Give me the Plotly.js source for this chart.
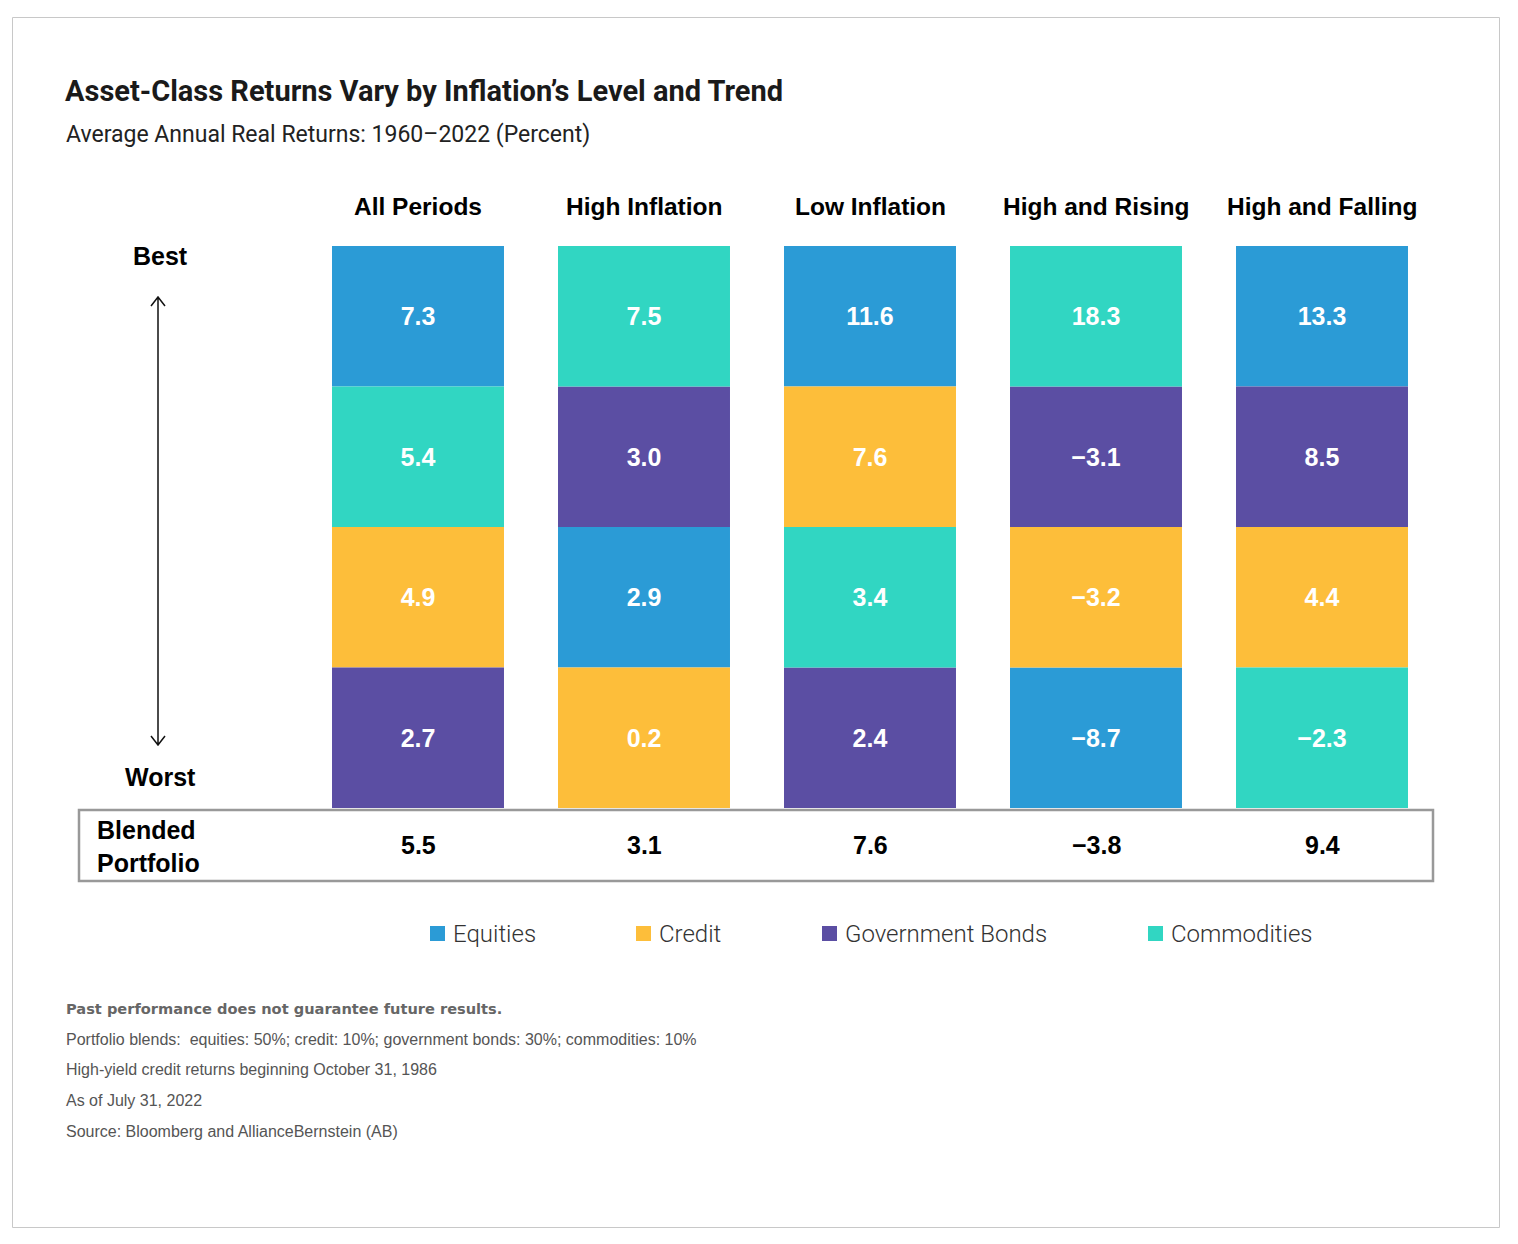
<!DOCTYPE html>
<html>
<head>
<meta charset="utf-8">
<script src="https://cdn.plot.ly/plotly-3.0.1.min.js"></script>
<style>html,body{margin:0;padding:0;background:#fff;}#chart{width:1518px;height:1244px;}</style>
</head>
<body>
<div id="chart"></div>
<script>
// ---------- DATA ----------
const categories = ['All Periods', 'High Inflation', 'Low Inflation', 'High and Rising', 'High and Falling'];
const assets = ['Equities', 'Credit', 'Government Bonds', 'Commodities'];
const equities = [7.3, 2.9, 11.6, -8.7, 13.3];
const credit = [4.9, 0.2, 7.6, -3.2, 4.4];
const govBonds = [2.7, 3.0, 2.4, -3.1, 8.5];
const commodities = [5.4, 7.5, 3.4, 18.3, -2.3];
const blended = [5.5, 3.1, 7.6, -3.8, 9.4];
const footnotes = [
  'Portfolio blends:  equities: 50%; credit: 10%; government bonds: 30%; commodities: 10%',
  'High-yield credit returns beginning October 31, 1986',
  'As of July 31, 2022',
  'Source: Bloomberg and AllianceBernstein (AB)'
];

// ---------- STYLE ----------
const colors = ['#2B9BD6', '#FDBE3A', '#5B4EA3', '#31D6C2'];
const W = 1518, H = 1244;
const X = px => px / W;
const Y = py => 1 - py / H;
const fmt = v => v.toFixed(1).replace('-', '\u2212');
const SANS = 'Liberation Sans, Arial, sans-serif';

const series = [equities, credit, govBonds, commodities];
// rank within each column: number of assets with a lower value (0 = worst, bottom)
const ranks = series.map(s => s.map((v, j) => series.filter(o => o[j] < v).length));

const traces = series.map((s, i) => ({
  type: 'bar',
  name: assets[i],
  x: categories,
  y: s.map(() => 1),
  base: ranks[i],
  width: 0.761,
  marker: {color: colors[i], line: {width: 0}},
  text: s.map(fmt),
  textposition: 'inside',
  insidetextanchor: 'middle',
  textangle: 0,
  constraintext: 'none',
  textfont: {family: SANS, size: 25, color: '#ffffff', weight: 700},
  hoverinfo: 'skip',
  showlegend: false
}));

const annotations = [];
// subtitle
annotations.push({xref: 'paper', yref: 'paper', x: X(64), y: Y(135), xanchor: 'left', yanchor: 'middle',
  text: 'Average Annual Real Returns: 1960\u20132022 (Percent)', showarrow: false,
  font: {family: 'Roboto, sans-serif', size: 23, color: '#222'}});
// column headers
categories.forEach((c, j) => annotations.push({xref: 'x', yref: 'paper', x: j, y: Y(207), xanchor: 'center', yanchor: 'middle',
  text: '<b>' + c + '</b>', showarrow: false, font: {family: SANS, size: 24.5, color: '#000'}}));
// blended values
blended.forEach((v, j) => annotations.push({xref: 'x', yref: 'paper', x: j, y: Y(845), xanchor: 'center', yanchor: 'middle',
  text: '<b>' + fmt(v) + '</b>', showarrow: false, font: {family: SANS, size: 25, color: '#000'}}));
// Best / Worst
annotations.push({xref: 'paper', yref: 'paper', x: X(160), y: Y(256), xanchor: 'center', yanchor: 'middle', text: '<b>Best</b>', showarrow: false,
  font: {family: SANS, size: 25, color: '#000'}});
annotations.push({xref: 'paper', yref: 'paper', x: X(160), y: Y(777), xanchor: 'center', yanchor: 'middle', text: '<b>Worst</b>', showarrow: false,
  font: {family: SANS, size: 25, color: '#000'}});
// Blended Portfolio label
annotations.push({xref: 'paper', yref: 'paper', x: X(95), y: Y(846), xanchor: 'left', yanchor: 'middle', align: 'left',
  text: '<b>Blended<br>Portfolio</b>', showarrow: false,
  font: {family: SANS, size: 25, color: '#000'}});
// legend (manual)
const legendX = [437, 643, 829, 1155];
const shapes = [];
assets.forEach((a, i) => {
  shapes.push({type: 'rect', xref: 'paper', yref: 'paper', x0: X(legendX[i] - 7), x1: X(legendX[i] + 8), y0: Y(941), y1: Y(926),
    fillcolor: colors[i], line: {width: 0}});
  annotations.push({xref: 'paper', yref: 'paper', x: X(legendX[i] + 14), y: Y(934), xanchor: 'left', yanchor: 'middle',
    text: a, showarrow: false, font: {family: 'Roboto, sans-serif', size: 24, color: '#333', weight: 300}});
});
// footnotes
annotations.push({xref: 'paper', yref: 'paper', x: X(64), y: Y(1008), xanchor: 'left', yanchor: 'middle',
  text: '<b>Past performance does not guarantee future results.</b>', showarrow: false,
  font: {family: 'DejaVu Sans, sans-serif', size: 14.6, color: '#666'}});
footnotes.forEach((t, k) => annotations.push({xref: 'paper', yref: 'paper', x: X(64), y: Y(1039 + k * 30.7), xanchor: 'left', yanchor: 'middle',
  text: t, showarrow: false, font: {family: SANS, size: 16, color: '#555'}}));

// outer frame
shapes.push({type: 'rect', xref: 'paper', yref: 'paper', x0: X(12.5), x1: X(1499.5), y0: Y(1227.5), y1: Y(17.5),
  line: {color: '#c8c8c8', width: 1}, layer: 'below'});
// blended box
shapes.push({type: 'rect', xref: 'paper', yref: 'paper', x0: X(79), x1: X(1433), y0: Y(881), y1: Y(810),
  line: {color: '#999', width: 2.5}});
// arrow
const arrX = 158, arrTop = 297, arrBot = 745, arrH = 7;
shapes.push({type: 'path', xref: 'paper', yref: 'paper',
  path: `M ${X(arrX)} ${Y(arrTop)} L ${X(arrX)} ${Y(arrBot)} M ${X(arrX - arrH)} ${Y(arrTop + arrH + 2)} L ${X(arrX)} ${Y(arrTop)} L ${X(arrX + arrH)} ${Y(arrTop + arrH + 2)} M ${X(arrX - arrH)} ${Y(arrBot - arrH - 2)} L ${X(arrX)} ${Y(arrBot)} L ${X(arrX + arrH)} ${Y(arrBot - arrH - 2)}`,
  line: {color: '#111', width: 1.5}});

const layout = {
  width: W, height: H,
  margin: {l: 0, r: 0, t: 0, b: 0, pad: 0},
  paper_bgcolor: '#fff', plot_bgcolor: 'rgba(0,0,0,0)',
  barmode: 'overlay',
  showlegend: false,
  title: {text: '<b>Asset-Class Returns Vary by Inflation\u2019s Level and Trend</b>', x: X(65), xanchor: 'left', xref: 'paper',
    y: Y(91), yanchor: 'middle', yref: 'paper',
    font: {family: 'Roboto, sans-serif', size: 29, color: '#1a1a1a'}},
  xaxis: {type: 'category', range: [-418 / 226, 1100 / 226], visible: false, fixedrange: true},
  yaxis: {range: [-436 / 140.5, 808 / 140.5], visible: false, fixedrange: true},
  shapes: shapes,
  annotations: annotations,
  hovermode: false
};

Plotly.newPlot('chart', traces, layout, {displayModeBar: false, staticPlot: true});
</script>
</body>
</html>
